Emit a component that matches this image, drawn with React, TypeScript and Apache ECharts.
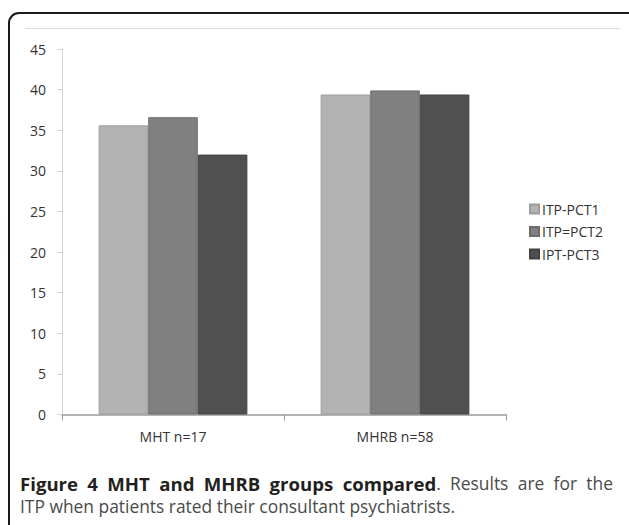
import React, { useEffect, useRef } from "react";
import * as echarts from "echarts";

const categories = ["MHT n=17", "MHRB n=58"];
const seriesNames = ["ITP-PCT1", "ITP=PCT2", "IPT-PCT3"];
const pct1 = [35.6, 39.4];
const pct2 = [36.6, 39.9];
const pct3 = [32.0, 39.4];
const yTicks = { min: 0, max: 45, interval: 5 };
const captionBold = "Figure 4 MHT and MHRB groups compared";
const captionRest1 = ". Results are for the";
const captionLine2 = "ITP when patients rated their consultant psychiatrists.";

const colors = ["#b3b3b3", "#808080", "#505050"];
const borders = ["#9c9c9c", "#6c6c6c", "#424242"];

export default function App() {
  const ref = useRef<HTMLDivElement>(null);
  useEffect(() => {
    if (!ref.current) return;
    const chart = echarts.init(ref.current, undefined, { renderer: "svg" });
    const font = "Open Sans";
    const capSize = 17.4;
    const boldSize = 18.6;
    const data = [pct1, pct2, pct3];

    // justified first caption line
    const canvas = document.createElement("canvas");
    const ctx = canvas.getContext("2d")!;
    const measure = (s: string, bold: boolean) => {
      ctx.font = (bold ? "bold " + boldSize : capSize) + "px '" + font + "'";
      return ctx.measureText(s).width;
    };
    type Word = { b: string; n: string };
    const words: Word[] = captionBold.split(" ").map((w) => ({ b: w, n: "" }));
    const restWords = captionRest1.trim().split(" ");
    words[words.length - 1].n = restWords[0];
    restWords.slice(1).forEach((w) => words.push({ b: "", n: w }));
    const widths = words.map((w) => measure(w.b, true) + measure(w.n, false));
    const lineLeft = 20;
    const lineRight = 613;
    const total = widths.reduce((a, b) => a + b, 0);
    const gap = (lineRight - lineLeft - total) / (words.length - 1);
    const rich = {
      b: { fontFamily: font, fontSize: boldSize, fontWeight: "bold", fill: "#231f20" },
      n: { fontFamily: font, fontSize: capSize, fill: "#4a4a4a" },
    };
    let cx = lineLeft;
    const wordEls = words.map((w, i) => {
      const parts = (w.b ? "{b|" + w.b + "}" : "") + (w.n ? "{n|" + w.n + "}" : "");
      const el = {
        type: "text",
        silent: true,
        style: { x: cx, y: 483, text: parts, rich, verticalAlign: "middle", align: "left" },
      };
      cx += widths[i] + gap;
      return el;
    });

    chart.setOption({
      animation: false,
      backgroundColor: "#ffffff",
      textStyle: { fontFamily: font },
      grid: { left: 62, right: 123, top: 49, bottom: 110.5, containLabel: false },
      legend: {
        orient: "vertical",
        left: 524,
        top: 197,
        itemWidth: 9,
        itemHeight: 9,
        itemGap: 8.5,
        icon: "rect",
        textStyle: { fontFamily: font, fontSize: 14, color: "#333", padding: [0, 0, 0, -2] },
        data: seriesNames,
      },
      xAxis: {
        type: "category",
        data: categories,
        axisLine: { lineStyle: { color: "#9a9a9a", width: 1.5 } },
        axisTick: { show: true, length: 6, lineStyle: { color: "#9a9a9a" }, interval: 0 },
        axisLabel: { fontFamily: font, fontSize: 14, color: "#333", margin: 15 },
        splitLine: { show: false },
      },
      yAxis: {
        type: "value",
        min: yTicks.min,
        max: yTicks.max,
        interval: yTicks.interval,
        axisLine: { show: true, lineStyle: { color: "#d4d4d4" } },
        axisTick: { show: true, length: 5, lineStyle: { color: "#d4d4d4" } },
        axisLabel: { fontFamily: font, fontSize: 14, color: "#333", margin: 16 },
        splitLine: { show: false },
      },
      series: seriesNames.map((name, i) => ({
        name,
        type: "bar",
        data: data[i],
        barGap: "0%",
        barCategoryGap: "33%",
        itemStyle: { color: colors[i], borderColor: borders[i], borderWidth: 1 },
      })),
      graphic: [
        {
          type: "rect",
          shape: { x: 9, y: 13, width: 640, height: 540, r: 10 },
          style: { fill: "none", stroke: "#1a1a1a", lineWidth: 2 },
          silent: true,
        },
        {
          type: "line",
          shape: { x1: 25, y1: 28.5, x2: 620, y2: 28.5 },
          style: { stroke: "#dcdcdc", lineWidth: 1 },
          silent: true,
        },
        ...wordEls,
        {
          type: "text",
          silent: true,
          style: {
            x: lineLeft,
            y: 506,
            text: captionLine2,
            fontFamily: font,
            fontSize: capSize,
            fill: "#4a4a4a",
            verticalAlign: "middle",
            align: "left",
          },
        },
      ],
    });
    return () => chart.dispose();
  }, []);
  return (
    <div
      ref={ref}
      style={{ position: "fixed", left: 0, top: 0, width: 629, height: 525 }}
    />
  );
}
